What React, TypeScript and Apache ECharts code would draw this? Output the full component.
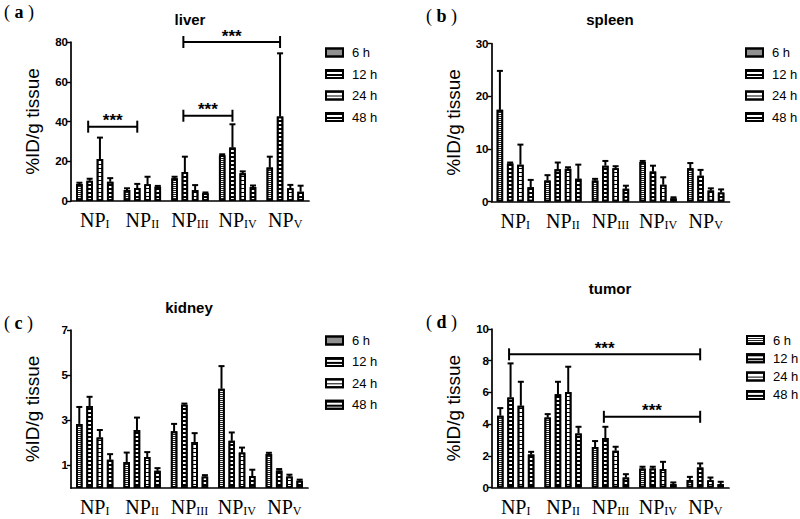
import React, { useEffect, useRef } from "react";
import * as echarts from "echarts";

// ---- data ----
const subscripts = ["I", "II", "III", "IV", "V"];
const categories = subscripts.map((s) => "NP" + s);
const times = ["6 h", "12 h", "24 h", "48 h"];

// liver (%ID/g)
const liver6 = [8.5, 5.5, 11.4, 23.0, 16.8];
const liver12 = [10.2, 6.5, 14.6, 26.9, 42.5];
const liver24 = [21.1, 8.4, 5.5, 13.9, 6.4];
const liver48 = [9.7, 7.2, 3.9, 7.0, 4.7];
const liver6Sd = [0.7, 0.9, 0.8, 0.5, 5.5];
const liver12Sd = [1.0, 2.1, 7.7, 11.7, 31.8];
const liver24Sd = [10.8, 3.8, 2.5, 1.0, 1.7];
const liver48Sd = [1.8, 0.4, 0.4, 0.8, 3.0];

// spleen
const spleen6 = [17.4, 4.0, 4.0, 7.5, 6.3];
const spleen12 = [7.2, 6.1, 6.8, 5.7, 4.9];
const spleen24 = [7.0, 6.2, 6.3, 3.2, 2.1];
const spleen48 = [2.7, 4.3, 2.4, 0.6, 1.7];
const spleen6Sd = [7.4, 1.0, 0.3, 0.2, 1.0];
const spleen12Sd = [0.2, 1.3, 0.9, 1.1, 1.1];
const spleen24Sd = [3.8, 0.3, 0.4, 1.4, 0.4];
const spleen48Sd = [1.4, 2.7, 0.6, 0.2, 0.6];

// kidney
const kidney6 = [2.84, 1.15, 2.51, 4.4, 1.51];
const kidney12 = [3.63, 2.57, 3.69, 2.09, 0.78];
const kidney24 = [2.24, 1.37, 2.04, 1.57, 0.51];
const kidney48 = [1.25, 0.76, 0.51, 0.53, 0.32];
const kidney6Sd = [0.75, 0.42, 0.33, 1.0, 0.05];
const kidney12Sd = [0.41, 0.55, 0.05, 0.37, 0.06];
const kidney24Sd = [0.33, 0.22, 0.39, 0.22, 0.08];
const kidney48Sd = [0.25, 0.12, 0.06, 0.28, 0.05];

// tumor
const tumor6 = [4.53, 4.42, 2.55, 1.2, 0.48];
const tumor12 = [5.68, 5.89, 3.12, 1.2, 1.26];
const tumor24 = [5.16, 6.02, 2.32, 1.16, 0.46];
const tumor48 = [2.08, 3.41, 0.63, 0.21, 0.21];
const tumor6Sd = [0.48, 0.21, 0.38, 0.11, 0.19];
const tumor12Sd = [2.15, 0.78, 0.71, 0.11, 0.26];
const tumor24Sd = [1.51, 1.6, 0.25, 0.46, 0.17];
const tumor48Sd = [0.17, 0.42, 0.21, 0.11, 0.15];

// significance brackets: [from category, to category, y value]
const liverBrackets = [
  [0, 1, 37.4],
  [2, 3, 42.9],
  [2, 4, 80],
];
const tumorBrackets = [
  [0, 4, 8.4],
  [2, 4, 4.46],
];

const yTicksLiver = [0, 20, 40, 60, 80];
const yTicksSpleen = [0, 10, 20, 30];
const yTicksKidney = [1, 3, 5, 7];
const yTicksTumor = [0, 2, 4, 6, 8, 10];

const panels = [
  {
    title: "liver", letter: "a",
    means: [liver6, liver12, liver24, liver48],
    sds: [liver6Sd, liver12Sd, liver24Sd, liver48Sd],
    ticks: yTicksLiver, max: 80, brackets: liverBrackets,
    grid: { left: 71, top: 42, width: 238, height: 159 },
    titlePos: [190, 19], letterPos: [4, 12],
    legend: { left: 325, top: 45.5, gap: 7.5 },
  },
  {
    title: "spleen", letter: "b",
    means: [spleen6, spleen12, spleen24, spleen48],
    sds: [spleen6Sd, spleen12Sd, spleen24Sd, spleen48Sd],
    ticks: yTicksSpleen, max: 30, brackets: [],
    grid: { left: 491.5, top: 43.5, width: 238, height: 158 },
    titlePos: [610, 19], letterPos: [426, 16],
    legend: { left: 745, top: 45.5, gap: 7.5 },
  },
  {
    title: "kidney", letter: "c",
    means: [kidney6, kidney12, kidney24, kidney48],
    sds: [kidney6Sd, kidney12Sd, kidney24Sd, kidney48Sd],
    ticks: yTicksKidney, max: 7, brackets: [],
    grid: { left: 71, top: 330, width: 237, height: 158 },
    titlePos: [189, 307], letterPos: [4, 323],
    legend: { left: 325, top: 333.5, gap: 7.4 },
  },
  {
    title: "tumor", letter: "d",
    means: [tumor6, tumor12, tumor24, tumor48],
    sds: [tumor6Sd, tumor12Sd, tumor24Sd, tumor48Sd],
    ticks: yTicksTumor, max: 10, brackets: tumorBrackets,
    grid: { left: 492, top: 329, width: 237, height: 158.5 },
    titlePos: [610, 288], letterPos: [426, 322],
    legend: { left: 746, top: 333, gap: 4.3 },
  },
];

const BAR_W = 6.5;
const BAR_GAP = 0.58;
const STEP = BAR_W * (1 + BAR_GAP);
const SANS = '"Liberation Sans", Arial, sans-serif';
const SERIF = '"Liberation Serif", "Times New Roman", serif';

const decals: any[] = [
  { symbol: "rect", symbolSize: 1, symbolKeepAspect: false, dashArrayX: [8, 0], dashArrayY: [1, 1], color: "#222" },
  { symbol: "rect", symbolSize: 1, symbolKeepAspect: false, dashArrayX: [8, 0], dashArrayY: [2, 2], color: "#000" },
  { symbol: "rect", symbolSize: 1, symbolKeepAspect: false, dashArrayX: [8, 0], dashArrayY: [1, 2.5], color: "#000" },
  { symbol: "rect", symbolSize: 1, symbolKeepAspect: false, dashArrayX: [8, 0], dashArrayY: [1.5, 2], color: "#000" },
];

function buildOption() {
  const grid: any[] = [];
  const xAxis: any[] = [];
  const yAxis: any[] = [];
  const series: any[] = [];
  const legend: any[] = [];
  const graphic: any[] = [];

  panels.forEach((p, pi) => {
    grid.push({ ...p.grid, outerBoundsMode: "none", containLabel: false });
    xAxis.push({
      type: "category",
      gridIndex: pi,
      data: categories,
      axisLine: { lineStyle: { color: "#000", width: 1.7 } },
      axisTick: { alignWithLabel: true, length: 5, lineStyle: { color: "#000", width: 1.4 } },
      axisLabel: {
        interval: 0,
        margin: 5,
        color: "#000",
        formatter: (v: string, i: number) => `{n|NP}{s|${subscripts[i]}}`,
        rich: {
          n: { fontFamily: SERIF, fontSize: 20, lineHeight: 24, color: "#000", verticalAlign: "bottom" },
          s: { fontFamily: SERIF, fontSize: 12, lineHeight: 3, color: "#000", verticalAlign: "bottom" },
        },
      },
    });
    const isKidney = p.title === "kidney";
    const yA: any = {
      type: "value",
      gridIndex: pi,
      min: 0,
      max: p.max,
      name: "%ID/g tissue",
      nameLocation: "middle",
      nameGap: 29,
      nameTextStyle: { fontFamily: SANS, fontSize: 19, color: "#000" },
      splitLine: { show: false },
      axisLine: { show: true, lineStyle: { color: "#000", width: 1.7 } },
      axisTick: { show: true, length: 4, lineStyle: { color: "#000", width: 1.4 } },
      axisLabel: { fontFamily: SANS, fontSize: 11.5, fontWeight: "bold", color: "#000", margin: 3 },
    };
    if (isKidney) {
      yA.axisLabel.customValues = p.ticks;
      yA.axisTick.customValues = p.ticks;
    } else {
      yA.interval = p.ticks[1] - p.ticks[0];
    }
    yAxis.push(yA);

    times.forEach((t, ti) => {
      series.push({
        type: "bar",
        name: t,
        xAxisIndex: pi,
        yAxisIndex: pi,
        data: p.means[ti],
        barWidth: BAR_W,
        barGap: BAR_GAP * 100 + "%",
        itemStyle: { color: "#fff", borderColor: "#000", borderWidth: 1.8, decal: decals[ti] },
        emphasis: { disabled: true },
        z: 2,
      });
    });

    const errData: any[] = [];
    times.forEach((t, ti) => {
      p.means[ti].forEach((m, ci) => errData.push([ci, ti, m, p.sds[ti][ci]]));
    });
    series.push({
      type: "custom",
      xAxisIndex: pi,
      yAxisIndex: pi,
      data: errData,
      encode: { x: 0, y: 2 },
      z: 5,
      silent: true,
      renderItem: (params: any, api: any) => {
        const ci = api.value(0);
        const ti = api.value(1);
        const m = api.value(2);
        const sd = api.value(3);
        const base = api.coord([ci, m]);
        const top = api.coord([ci, m + sd]);
        const x = base[0] + (ti - 1.5) * STEP;
        return {
          type: "group",
          children: [
            { type: "line", shape: { x1: x, y1: base[1], x2: x, y2: top[1] }, style: { stroke: "#000", lineWidth: 2 } },
            { type: "line", shape: { x1: x - 3, y1: top[1], x2: x + 3, y2: top[1] }, style: { stroke: "#000", lineWidth: 2 } },
          ],
        };
      },
    });

    if (p.brackets.length) {
      series.push({
        type: "custom",
        xAxisIndex: pi,
        yAxisIndex: pi,
        data: p.brackets,
        encode: { x: 0, y: 2 },
        z: 6,
        silent: true,
        clip: false,
        renderItem: (params: any, api: any) => {
          const c1 = api.value(0);
          const c2 = api.value(1);
          const yv = api.value(2);
          const a = api.coord([c1, yv]);
          const b = api.coord([c2, yv]);
          const x1 = a[0] - 0.5 * STEP - 1.5;
          const x2 = b[0] - 0.5 * STEP;
          const y = a[1];
          return {
            type: "group",
            children: [
              { type: "line", shape: { x1, y1: y, x2, y2: y }, style: { stroke: "#000", lineWidth: 2 } },
              { type: "line", shape: { x1, y1: y - 6, x2: x1, y2: y + 6 }, style: { stroke: "#000", lineWidth: 2 } },
              { type: "line", shape: { x1: x2, y1: y - 6, x2, y2: y + 6 }, style: { stroke: "#000", lineWidth: 2 } },
              {
                type: "text",
                x: (x1 + x2) / 2,
                y: y - 6,
                style: { text: "***", fill: "#000", font: `bold 17px ${SANS}`, align: "center", verticalAlign: "middle" },
              },
            ],
          };
        },
      });
    }

    legend.push({
      orient: "vertical",
      left: p.legend.left,
      top: p.legend.top,
      itemWidth: 17,
      itemHeight: 8,
      itemGap: p.legend.gap,
      icon: "rect",
      padding: 0,
      selectedMode: false,
      data: times,
      textStyle: { fontFamily: SANS, fontSize: 13, color: "#000", lineHeight: 14, padding: [0, 0, 0, 4] },
    });

    graphic.push({
      type: "text",
      x: p.titlePos[0],
      y: p.titlePos[1],
      style: { text: p.title, fill: "#000", font: `bold 15px ${SANS}`, align: "center", verticalAlign: "middle" },
    });
    graphic.push({
      type: "text",
      x: p.letterPos[0],
      y: p.letterPos[1],
      style: {
        text: `{p|(}{l| ${p.letter}}{p| )}`,
        rich: {
          p: { fontFamily: SERIF, fontSize: 18, fill: "#000", fontWeight: "normal" },
          l: { fontFamily: SERIF, fontSize: 18, fill: "#000", fontWeight: "bold" },
        },
        verticalAlign: "middle",
      },
    });
  });

  return {
    animation: false,
    backgroundColor: "#fff",
    grid,
    xAxis,
    yAxis,
    series,
    legend,
    graphic,
  };
}

export default function App() {
  const ref = useRef<HTMLDivElement>(null);
  useEffect(() => {
    if (!ref.current) return;
    const chart = echarts.init(ref.current, null, { renderer: "svg" });
    chart.setOption(buildOption() as any);
    return () => chart.dispose();
  }, []);
  return (
    <div
      ref={ref}
      style={{ position: "absolute", left: 0, top: 0, width: 800, height: 519, background: "#fff" }}
    />
  );
}
